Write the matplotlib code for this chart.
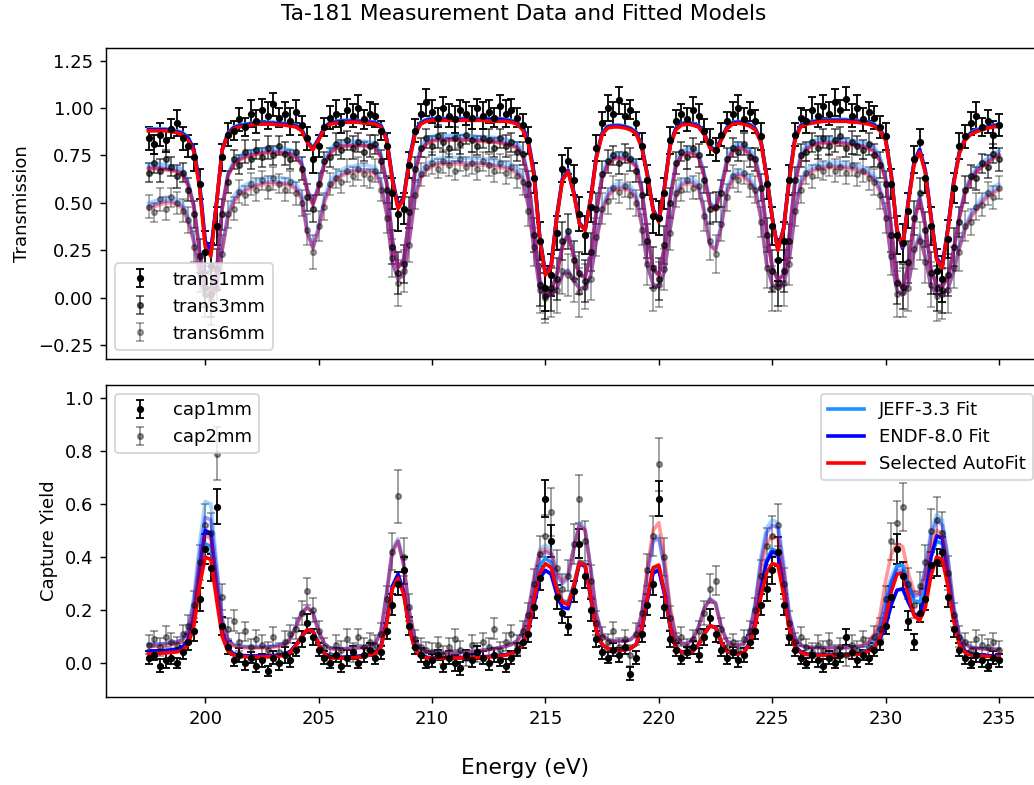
import numpy as np
import matplotlib.pyplot as plt

# energy grid of the measurement / fits (eV)
energy = np.linspace(197.5, 235.0, 151)

# ---- transmission data ----
t1_data = [
    0.84, 0.81, 0.86, 0.83, 0.89, 0.92, 0.84, 0.80, 0.74, 0.60,
    0.24, 0.17, 0.38, 0.74, 0.86, 0.88, 0.94, 0.90, 0.97, 0.93,
    0.99, 0.96, 1.02, 0.95, 0.97, 0.93, 0.98, 0.91, 0.84, 0.73,
    0.80, 0.90, 0.95, 0.97, 0.92, 0.99, 0.96, 1.00, 0.94, 0.97,
    0.96, 0.88, 0.80, 0.55, 0.44, 0.47, 0.70, 0.88, 0.97, 1.03,
    0.98, 0.95, 1.00, 0.96, 0.94, 0.99, 0.97, 0.95, 1.00, 0.96,
    0.98, 0.95, 1.01, 0.97, 0.99, 0.95, 0.91, 0.83, 0.63, 0.30,
    0.05, 0.12, 0.34, 0.68, 0.72, 0.62, 0.44, 0.33, 0.48, 0.79,
    0.92, 1.00, 0.97, 1.04, 0.96, 0.99, 0.92, 0.80, 0.62, 0.43,
    0.42, 0.55, 0.83, 0.93, 0.97, 0.94, 0.99, 0.96, 0.88, 0.82,
    0.78, 0.86, 0.93, 0.97, 1.00, 0.94, 0.98, 0.93, 0.85, 0.60,
    0.38, 0.20, 0.30, 0.62, 0.86, 0.95, 0.93, 0.99, 0.96, 1.01,
    0.97, 1.03, 0.99, 1.05, 0.96, 1.00, 0.94, 0.98, 0.95, 0.90,
    0.85, 0.60, 0.33, 0.29, 0.46, 0.73, 0.82, 0.63, 0.38, 0.14,
    0.10, 0.31, 0.58, 0.80, 0.85, 0.92, 0.96, 0.90, 0.93, 0.86, 0.91]
t1_err = [
    0.06, 0.05, 0.06, 0.06, 0.05, 0.07, 0.06, 0.06, 0.07, 0.08,
    0.11, 0.12, 0.10, 0.07, 0.06, 0.05, 0.06, 0.05, 0.07, 0.06,
    0.06, 0.07, 0.06, 0.05, 0.06, 0.07, 0.06, 0.05, 0.06, 0.07,
    0.06, 0.05, 0.06, 0.07, 0.05, 0.06, 0.06, 0.07, 0.05, 0.06,
    0.06, 0.05, 0.07, 0.08, 0.09, 0.08, 0.07, 0.06, 0.05, 0.07,
    0.06, 0.05, 0.06, 0.06, 0.07, 0.05, 0.06, 0.06, 0.05, 0.07,
    0.06, 0.05, 0.06, 0.07, 0.06, 0.05, 0.06, 0.07, 0.08, 0.10,
    0.12, 0.11, 0.09, 0.07, 0.07, 0.08, 0.09, 0.10, 0.08, 0.07,
    0.06, 0.07, 0.06, 0.07, 0.06, 0.05, 0.06, 0.07, 0.08, 0.09,
    0.09, 0.08, 0.07, 0.06, 0.05, 0.06, 0.07, 0.06, 0.06, 0.07,
    0.06, 0.06, 0.05, 0.06, 0.07, 0.06, 0.05, 0.06, 0.07, 0.08,
    0.10, 0.11, 0.10, 0.08, 0.06, 0.05, 0.06, 0.07, 0.06, 0.06,
    0.06, 0.07, 0.05, 0.06, 0.06, 0.07, 0.06, 0.05, 0.06, 0.06,
    0.07, 0.08, 0.10, 0.10, 0.09, 0.07, 0.07, 0.08, 0.10, 0.12,
    0.12, 0.10, 0.08, 0.07, 0.06, 0.06, 0.07, 0.05, 0.06, 0.07, 0.06]

t3_data = [
    0.66, 0.71, 0.67, 0.73, 0.69, 0.64, 0.66, 0.57, 0.44, 0.22,
    0.06, 0.02, 0.15, 0.44, 0.61, 0.73, 0.70, 0.77, 0.73, 0.78,
    0.74, 0.79, 0.75, 0.80, 0.76, 0.73, 0.77, 0.68, 0.53, 0.47,
    0.60, 0.72, 0.74, 0.81, 0.78, 0.83, 0.79, 0.82, 0.77, 0.80,
    0.81, 0.72, 0.57, 0.27, 0.13, 0.18, 0.45, 0.68, 0.79, 0.84,
    0.80, 0.85, 0.82, 0.79, 0.84, 0.81, 0.86, 0.83, 0.80, 0.84,
    0.83, 0.79, 0.84, 0.80, 0.82, 0.77, 0.76, 0.60, 0.33, 0.07,
    0.01, 0.05, 0.10, 0.30, 0.35, 0.20, 0.13, 0.09, 0.24, 0.47,
    0.65, 0.72, 0.75, 0.71, 0.76, 0.73, 0.67, 0.54, 0.30, 0.16,
    0.10, 0.28, 0.50, 0.71, 0.77, 0.74, 0.79, 0.75, 0.62, 0.47,
    0.48, 0.55, 0.73, 0.79, 0.77, 0.81, 0.74, 0.73, 0.58, 0.33,
    0.14, 0.08, 0.14, 0.30, 0.62, 0.75, 0.77, 0.82, 0.79, 0.84,
    0.80, 0.83, 0.85, 0.79, 0.82, 0.80, 0.78, 0.81, 0.75, 0.70,
    0.60, 0.33, 0.08, 0.06, 0.19, 0.42, 0.55, 0.36, 0.13, 0.05,
    0.04, 0.12, 0.27, 0.40, 0.57, 0.64, 0.63, 0.71, 0.69, 0.76, 0.73]
t3_err = [
    0.05, 0.05, 0.06, 0.05, 0.05, 0.06, 0.05, 0.06, 0.07, 0.09,
    0.11, 0.12, 0.11, 0.08, 0.06, 0.05, 0.05, 0.06, 0.05, 0.05,
    0.05, 0.06, 0.05, 0.05, 0.06, 0.05, 0.05, 0.06, 0.07, 0.07,
    0.06, 0.05, 0.05, 0.06, 0.05, 0.05, 0.06, 0.05, 0.05, 0.06,
    0.05, 0.06, 0.07, 0.09, 0.11, 0.10, 0.08, 0.06, 0.05, 0.05,
    0.05, 0.06, 0.05, 0.05, 0.06, 0.05, 0.05, 0.06, 0.05, 0.05,
    0.06, 0.05, 0.05, 0.06, 0.05, 0.05, 0.06, 0.07, 0.09, 0.11,
    0.12, 0.12, 0.11, 0.10, 0.09, 0.10, 0.11, 0.11, 0.10, 0.08,
    0.07, 0.06, 0.05, 0.06, 0.05, 0.06, 0.06, 0.07, 0.09, 0.11,
    0.11, 0.10, 0.08, 0.06, 0.05, 0.06, 0.05, 0.06, 0.07, 0.08,
    0.08, 0.07, 0.06, 0.05, 0.05, 0.06, 0.05, 0.06, 0.07, 0.09,
    0.11, 0.12, 0.11, 0.09, 0.07, 0.06, 0.05, 0.05, 0.06, 0.05,
    0.05, 0.06, 0.05, 0.05, 0.06, 0.05, 0.05, 0.06, 0.06, 0.07,
    0.07, 0.09, 0.11, 0.12, 0.11, 0.09, 0.08, 0.09, 0.11, 0.12,
    0.12, 0.11, 0.10, 0.08, 0.07, 0.06, 0.06, 0.05, 0.06, 0.05, 0.06]

t6_data = [
    0.48, 0.45, 0.52, 0.47, 0.53, 0.50, 0.46, 0.41, 0.27, 0.13,
    0.02, -0.01, 0.05, 0.23, 0.44, 0.47, 0.56, 0.54, 0.60, 0.57,
    0.62, 0.58, 0.63, 0.60, 0.57, 0.61, 0.55, 0.50, 0.36, 0.24,
    0.38, 0.48, 0.60, 0.63, 0.61, 0.67, 0.64, 0.68, 0.65, 0.63,
    0.67, 0.57, 0.42, 0.21, 0.08, 0.14, 0.28, 0.54, 0.65, 0.69,
    0.71, 0.68, 0.72, 0.70, 0.67, 0.73, 0.69, 0.71, 0.68, 0.72,
    0.70, 0.67, 0.71, 0.66, 0.69, 0.64, 0.61, 0.46, 0.27, 0.04,
    0.00, 0.03, 0.04, 0.14, 0.12, 0.10, 0.03, 0.06, 0.10, 0.32,
    0.47, 0.51, 0.58, 0.56, 0.59, 0.54, 0.50, 0.36, 0.18, 0.05,
    0.07, 0.15, 0.34, 0.55, 0.57, 0.62, 0.58, 0.59, 0.43, 0.30,
    0.23, 0.39, 0.53, 0.64, 0.62, 0.66, 0.59, 0.57, 0.40, 0.16,
    0.05, 0.06, 0.08, 0.18, 0.46, 0.57, 0.66, 0.64, 0.69, 0.67,
    0.70, 0.67, 0.69, 0.66, 0.70, 0.65, 0.67, 0.63, 0.61, 0.54,
    0.42, 0.22, 0.02, 0.03, 0.05, 0.26, 0.30, 0.19, 0.07, 0.01,
    0.02, 0.04, 0.16, 0.24, 0.38, 0.40, 0.48, 0.49, 0.55, 0.53, 0.58]
t6_err = [
    0.06, 0.05, 0.06, 0.06, 0.05, 0.06, 0.06, 0.07, 0.08, 0.10,
    0.12, 0.13, 0.12, 0.10, 0.07, 0.06, 0.06, 0.05, 0.06, 0.06,
    0.05, 0.06, 0.06, 0.05, 0.06, 0.06, 0.06, 0.07, 0.08, 0.09,
    0.08, 0.07, 0.06, 0.05, 0.06, 0.06, 0.05, 0.06, 0.06, 0.05,
    0.06, 0.06, 0.08, 0.10, 0.12, 0.11, 0.09, 0.07, 0.06, 0.05,
    0.06, 0.05, 0.06, 0.06, 0.05, 0.06, 0.05, 0.06, 0.06, 0.05,
    0.06, 0.06, 0.05, 0.06, 0.06, 0.06, 0.07, 0.08, 0.10, 0.12,
    0.13, 0.13, 0.12, 0.12, 0.11, 0.12, 0.13, 0.12, 0.11, 0.10,
    0.08, 0.07, 0.06, 0.06, 0.06, 0.07, 0.07, 0.08, 0.11, 0.12,
    0.12, 0.11, 0.09, 0.07, 0.06, 0.06, 0.06, 0.07, 0.08, 0.10,
    0.10, 0.09, 0.07, 0.06, 0.06, 0.06, 0.06, 0.07, 0.08, 0.11,
    0.12, 0.13, 0.12, 0.11, 0.08, 0.07, 0.06, 0.06, 0.06, 0.05,
    0.06, 0.06, 0.05, 0.06, 0.06, 0.06, 0.06, 0.06, 0.07, 0.07,
    0.08, 0.10, 0.12, 0.13, 0.12, 0.11, 0.10, 0.11, 0.12, 0.13,
    0.13, 0.12, 0.11, 0.10, 0.08, 0.07, 0.07, 0.06, 0.06, 0.06, 0.06]

# ---- transmission fits ----
t1_jeff = [
    0.89, 0.89, 0.89, 0.89, 0.885, 0.88, 0.87, 0.845, 0.785, 0.60,
    0.29, 0.24, 0.50, 0.785, 0.87, 0.90, 0.91, 0.915, 0.92, 0.925,
    0.925, 0.925, 0.925, 0.92, 0.92, 0.915, 0.91, 0.89, 0.83, 0.79,
    0.84, 0.90, 0.925, 0.93, 0.935, 0.935, 0.935, 0.935, 0.93, 0.93,
    0.925, 0.91, 0.84, 0.635, 0.48, 0.53, 0.73, 0.88, 0.925, 0.94,
    0.945, 0.945, 0.945, 0.945, 0.945, 0.945, 0.945, 0.945, 0.945, 0.945,
    0.945, 0.945, 0.945, 0.94, 0.935, 0.925, 0.90, 0.83, 0.66, 0.32,
    0.125, 0.165, 0.43, 0.63, 0.675, 0.56, 0.395, 0.36, 0.53, 0.75,
    0.87, 0.905, 0.91, 0.91, 0.905, 0.895, 0.875, 0.80, 0.65, 0.465,
    0.405, 0.585, 0.81, 0.895, 0.92, 0.925, 0.92, 0.91, 0.87, 0.80,
    0.78, 0.84, 0.90, 0.925, 0.93, 0.925, 0.915, 0.895, 0.83, 0.65,
    0.425, 0.255, 0.365, 0.63, 0.84, 0.91, 0.925, 0.93, 0.935, 0.94,
    0.94, 0.94, 0.94, 0.94, 0.935, 0.935, 0.93, 0.925, 0.915, 0.89,
    0.84, 0.65, 0.36, 0.275, 0.51, 0.715, 0.785, 0.67, 0.425, 0.205,
    0.165, 0.37, 0.61, 0.77, 0.84, 0.87, 0.885, 0.895, 0.905, 0.91, 0.915]
t1_endf = [
    0.885, 0.885, 0.885, 0.885, 0.88, 0.875, 0.865, 0.84, 0.78, 0.60,
    0.30, 0.25, 0.50, 0.78, 0.865, 0.895, 0.905, 0.91, 0.915, 0.92,
    0.92, 0.92, 0.92, 0.915, 0.915, 0.91, 0.905, 0.885, 0.825, 0.785,
    0.835, 0.895, 0.92, 0.925, 0.93, 0.93, 0.93, 0.93, 0.925, 0.925,
    0.92, 0.905, 0.835, 0.63, 0.48, 0.53, 0.725, 0.875, 0.92, 0.935,
    0.94, 0.94, 0.94, 0.94, 0.94, 0.94, 0.94, 0.94, 0.94, 0.94,
    0.94, 0.94, 0.94, 0.935, 0.93, 0.92, 0.895, 0.82, 0.65, 0.32,
    0.13, 0.17, 0.43, 0.625, 0.67, 0.555, 0.395, 0.36, 0.525, 0.745,
    0.865, 0.90, 0.905, 0.905, 0.90, 0.89, 0.87, 0.795, 0.645, 0.465,
    0.41, 0.585, 0.805, 0.89, 0.915, 0.92, 0.915, 0.905, 0.865, 0.795,
    0.775, 0.835, 0.895, 0.92, 0.925, 0.92, 0.91, 0.89, 0.825, 0.645,
    0.425, 0.255, 0.365, 0.625, 0.835, 0.905, 0.92, 0.925, 0.93, 0.935,
    0.935, 0.935, 0.935, 0.935, 0.93, 0.93, 0.925, 0.92, 0.91, 0.885,
    0.835, 0.645, 0.355, 0.26, 0.51, 0.71, 0.78, 0.67, 0.43, 0.21,
    0.17, 0.37, 0.61, 0.765, 0.835, 0.865, 0.88, 0.89, 0.90, 0.905, 0.91]
t1_auto = [
    0.88, 0.88, 0.88, 0.88, 0.875, 0.87, 0.86, 0.83, 0.77, 0.58,
    0.27, 0.22, 0.50, 0.78, 0.86, 0.89, 0.90, 0.905, 0.91, 0.915,
    0.915, 0.915, 0.915, 0.91, 0.91, 0.905, 0.90, 0.88, 0.82, 0.78,
    0.83, 0.89, 0.915, 0.92, 0.925, 0.925, 0.925, 0.925, 0.92, 0.92,
    0.915, 0.90, 0.83, 0.62, 0.47, 0.52, 0.72, 0.86, 0.915, 0.93,
    0.935, 0.935, 0.935, 0.935, 0.935, 0.935, 0.935, 0.935, 0.935, 0.935,
    0.93, 0.93, 0.93, 0.93, 0.925, 0.915, 0.885, 0.81, 0.64, 0.31,
    0.12, 0.16, 0.42, 0.62, 0.665, 0.55, 0.39, 0.355, 0.52, 0.74,
    0.86, 0.895, 0.90, 0.90, 0.895, 0.885, 0.865, 0.79, 0.64, 0.46,
    0.40, 0.58, 0.80, 0.885, 0.91, 0.915, 0.91, 0.90, 0.86, 0.79,
    0.77, 0.83, 0.89, 0.915, 0.92, 0.915, 0.905, 0.885, 0.82, 0.64,
    0.42, 0.25, 0.36, 0.62, 0.83, 0.90, 0.915, 0.92, 0.925, 0.93,
    0.93, 0.93, 0.93, 0.93, 0.925, 0.925, 0.92, 0.915, 0.905, 0.88,
    0.83, 0.64, 0.36, 0.27, 0.50, 0.70, 0.77, 0.66, 0.42, 0.20,
    0.16, 0.36, 0.60, 0.76, 0.83, 0.86, 0.875, 0.885, 0.895, 0.90, 0.905]

t3_jeff = [
    0.705, 0.705, 0.705, 0.70, 0.695, 0.69, 0.675, 0.61, 0.49, 0.25,
    0.055, 0.035, 0.135, 0.48, 0.655, 0.72, 0.745, 0.765, 0.775, 0.78,
    0.785, 0.79, 0.79, 0.79, 0.785, 0.78, 0.765, 0.72, 0.575, 0.50,
    0.595, 0.72, 0.785, 0.81, 0.82, 0.825, 0.825, 0.825, 0.825, 0.82,
    0.815, 0.76, 0.615, 0.31, 0.165, 0.205, 0.43, 0.68, 0.795, 0.835,
    0.85, 0.855, 0.855, 0.855, 0.855, 0.855, 0.855, 0.855, 0.85, 0.85,
    0.845, 0.845, 0.84, 0.835, 0.825, 0.815, 0.775, 0.64, 0.36, 0.095,
    0.03, 0.04, 0.125, 0.28, 0.345, 0.23, 0.125, 0.115, 0.23, 0.47,
    0.655, 0.725, 0.755, 0.76, 0.755, 0.745, 0.715, 0.58, 0.34, 0.155,
    0.125, 0.27, 0.54, 0.715, 0.775, 0.785, 0.785, 0.765, 0.66, 0.505,
    0.475, 0.59, 0.735, 0.795, 0.815, 0.805, 0.78, 0.745, 0.62, 0.36,
    0.165, 0.10, 0.125, 0.33, 0.62, 0.755, 0.805, 0.825, 0.835, 0.84,
    0.84, 0.84, 0.84, 0.835, 0.83, 0.825, 0.82, 0.81, 0.795, 0.745,
    0.64, 0.37, 0.105, 0.055, 0.175, 0.415, 0.54, 0.39, 0.155, 0.07,
    0.065, 0.115, 0.26, 0.435, 0.57, 0.64, 0.685, 0.715, 0.735, 0.76, 0.775]
t3_endf = [
    0.685, 0.685, 0.685, 0.68, 0.675, 0.67, 0.655, 0.595, 0.485, 0.245,
    0.055, 0.03, 0.13, 0.475, 0.645, 0.705, 0.73, 0.745, 0.755, 0.76,
    0.765, 0.77, 0.77, 0.77, 0.765, 0.76, 0.745, 0.705, 0.565, 0.495,
    0.585, 0.705, 0.765, 0.79, 0.80, 0.805, 0.805, 0.805, 0.805, 0.80,
    0.795, 0.745, 0.605, 0.305, 0.16, 0.20, 0.425, 0.665, 0.775, 0.815,
    0.83, 0.835, 0.835, 0.835, 0.835, 0.835, 0.835, 0.835, 0.83, 0.83,
    0.825, 0.825, 0.82, 0.815, 0.805, 0.795, 0.755, 0.625, 0.355, 0.09,
    0.025, 0.035, 0.12, 0.275, 0.335, 0.225, 0.12, 0.11, 0.225, 0.455,
    0.635, 0.705, 0.735, 0.74, 0.735, 0.725, 0.695, 0.565, 0.335, 0.15,
    0.12, 0.265, 0.525, 0.695, 0.755, 0.765, 0.765, 0.745, 0.645, 0.495,
    0.465, 0.575, 0.715, 0.775, 0.795, 0.785, 0.76, 0.725, 0.605, 0.355,
    0.16, 0.095, 0.12, 0.325, 0.605, 0.735, 0.785, 0.805, 0.815, 0.82,
    0.82, 0.82, 0.82, 0.815, 0.81, 0.805, 0.80, 0.79, 0.775, 0.725,
    0.625, 0.36, 0.10, 0.05, 0.17, 0.40, 0.525, 0.38, 0.15, 0.065,
    0.06, 0.11, 0.25, 0.425, 0.555, 0.625, 0.665, 0.695, 0.715, 0.74, 0.755]
t3_auto = [
    0.68, 0.68, 0.68, 0.675, 0.67, 0.665, 0.65, 0.59, 0.48, 0.24,
    0.05, 0.03, 0.13, 0.47, 0.64, 0.70, 0.725, 0.74, 0.75, 0.755,
    0.76, 0.765, 0.765, 0.765, 0.76, 0.755, 0.74, 0.70, 0.56, 0.49,
    0.58, 0.70, 0.76, 0.785, 0.795, 0.80, 0.80, 0.80, 0.80, 0.795,
    0.79, 0.74, 0.60, 0.30, 0.16, 0.20, 0.42, 0.66, 0.77, 0.81,
    0.825, 0.83, 0.83, 0.83, 0.83, 0.83, 0.83, 0.83, 0.825, 0.825,
    0.82, 0.82, 0.815, 0.81, 0.80, 0.79, 0.75, 0.62, 0.35, 0.09,
    0.025, 0.035, 0.12, 0.27, 0.33, 0.22, 0.12, 0.11, 0.22, 0.45,
    0.63, 0.70, 0.73, 0.735, 0.73, 0.72, 0.69, 0.56, 0.33, 0.15,
    0.12, 0.26, 0.52, 0.69, 0.75, 0.76, 0.76, 0.74, 0.64, 0.49,
    0.46, 0.57, 0.71, 0.77, 0.79, 0.78, 0.755, 0.72, 0.60, 0.35,
    0.16, 0.095, 0.12, 0.32, 0.60, 0.73, 0.78, 0.80, 0.81, 0.815,
    0.815, 0.815, 0.815, 0.81, 0.805, 0.80, 0.795, 0.785, 0.77, 0.72,
    0.62, 0.36, 0.10, 0.05, 0.17, 0.40, 0.52, 0.38, 0.15, 0.065,
    0.06, 0.11, 0.25, 0.42, 0.55, 0.62, 0.66, 0.69, 0.71, 0.735, 0.75]

t6_jeff = [
    0.50, 0.51, 0.52, 0.53, 0.53, 0.52, 0.50, 0.43, 0.31, 0.13,
    0.013, 0.007, 0.045, 0.265, 0.45, 0.535, 0.575, 0.595, 0.61, 0.62,
    0.63, 0.635, 0.635, 0.635, 0.63, 0.625, 0.605, 0.55, 0.355, 0.27,
    0.375, 0.53, 0.615, 0.655, 0.675, 0.69, 0.695, 0.70, 0.70, 0.695,
    0.69, 0.62, 0.46, 0.195, 0.10, 0.125, 0.315, 0.55, 0.665, 0.705,
    0.725, 0.735, 0.74, 0.74, 0.74, 0.74, 0.735, 0.735, 0.735, 0.735,
    0.73, 0.725, 0.72, 0.715, 0.705, 0.69, 0.65, 0.50, 0.26, 0.05,
    0.01, 0.015, 0.052, 0.125, 0.15, 0.095, 0.052, 0.052, 0.125, 0.315,
    0.475, 0.56, 0.595, 0.605, 0.60, 0.59, 0.55, 0.40, 0.175, 0.072,
    0.062, 0.145, 0.375, 0.56, 0.62, 0.63, 0.63, 0.605, 0.47, 0.29,
    0.26, 0.39, 0.58, 0.65, 0.675, 0.665, 0.635, 0.59, 0.44, 0.185,
    0.072, 0.052, 0.072, 0.205, 0.46, 0.62, 0.675, 0.695, 0.705, 0.71,
    0.715, 0.715, 0.715, 0.71, 0.705, 0.70, 0.69, 0.675, 0.65, 0.585,
    0.46, 0.205, 0.04, 0.015, 0.072, 0.25, 0.335, 0.215, 0.062, 0.02,
    0.015, 0.052, 0.145, 0.275, 0.38, 0.445, 0.49, 0.53, 0.56, 0.585, 0.60]
t6_endf = [
    0.48, 0.49, 0.50, 0.51, 0.51, 0.50, 0.48, 0.41, 0.30, 0.125,
    0.012, 0.006, 0.042, 0.255, 0.43, 0.51, 0.55, 0.57, 0.585, 0.595,
    0.605, 0.61, 0.61, 0.61, 0.605, 0.60, 0.58, 0.53, 0.345, 0.265,
    0.365, 0.51, 0.59, 0.63, 0.65, 0.665, 0.67, 0.675, 0.675, 0.67,
    0.665, 0.60, 0.445, 0.19, 0.10, 0.12, 0.305, 0.53, 0.64, 0.68,
    0.70, 0.71, 0.715, 0.715, 0.715, 0.715, 0.71, 0.71, 0.71, 0.71,
    0.705, 0.70, 0.695, 0.69, 0.68, 0.665, 0.63, 0.485, 0.255, 0.05,
    0.01, 0.015, 0.05, 0.12, 0.145, 0.09, 0.05, 0.05, 0.12, 0.305,
    0.46, 0.54, 0.575, 0.585, 0.58, 0.57, 0.53, 0.385, 0.17, 0.07,
    0.06, 0.14, 0.365, 0.54, 0.60, 0.61, 0.61, 0.585, 0.455, 0.28,
    0.25, 0.375, 0.56, 0.63, 0.655, 0.645, 0.615, 0.57, 0.425, 0.18,
    0.07, 0.05, 0.07, 0.20, 0.445, 0.60, 0.655, 0.675, 0.685, 0.69,
    0.695, 0.695, 0.695, 0.69, 0.685, 0.68, 0.67, 0.655, 0.63, 0.565,
    0.445, 0.20, 0.04, 0.015, 0.07, 0.245, 0.325, 0.21, 0.06, 0.02,
    0.015, 0.05, 0.14, 0.265, 0.365, 0.43, 0.47, 0.51, 0.54, 0.56, 0.58]
t6_auto = [
    0.47, 0.48, 0.49, 0.50, 0.50, 0.49, 0.47, 0.40, 0.29, 0.12,
    0.01, 0.005, 0.04, 0.25, 0.42, 0.50, 0.54, 0.56, 0.575, 0.585,
    0.595, 0.60, 0.60, 0.60, 0.595, 0.59, 0.57, 0.52, 0.34, 0.26,
    0.36, 0.50, 0.58, 0.62, 0.64, 0.655, 0.66, 0.665, 0.665, 0.66,
    0.655, 0.59, 0.44, 0.19, 0.10, 0.12, 0.30, 0.52, 0.63, 0.67,
    0.69, 0.70, 0.705, 0.705, 0.705, 0.705, 0.70, 0.70, 0.70, 0.70,
    0.695, 0.69, 0.685, 0.68, 0.67, 0.655, 0.62, 0.48, 0.25, 0.05,
    0.01, 0.015, 0.05, 0.12, 0.14, 0.09, 0.05, 0.05, 0.12, 0.30,
    0.45, 0.53, 0.565, 0.575, 0.57, 0.56, 0.52, 0.38, 0.17, 0.07,
    0.06, 0.14, 0.36, 0.53, 0.59, 0.60, 0.60, 0.575, 0.45, 0.28,
    0.25, 0.37, 0.55, 0.62, 0.645, 0.635, 0.605, 0.56, 0.42, 0.18,
    0.07, 0.05, 0.07, 0.20, 0.44, 0.59, 0.645, 0.665, 0.675, 0.68,
    0.685, 0.685, 0.685, 0.68, 0.675, 0.67, 0.66, 0.645, 0.62, 0.56,
    0.44, 0.20, 0.04, 0.015, 0.07, 0.24, 0.32, 0.21, 0.06, 0.02,
    0.015, 0.05, 0.14, 0.26, 0.36, 0.42, 0.46, 0.50, 0.53, 0.55, 0.57]

# ---- capture data ----
c1_data = [
    0.02, 0.03, -0.01, 0.01, 0.02, 0.00, 0.04, 0.08, 0.12, 0.24,
    0.43, 0.36, 0.59, 0.14, 0.06, 0.01, 0.03, 0.00, 0.02, -0.01,
    0.01, -0.03, 0.02, 0.00, 0.03, 0.01, 0.05, 0.09, 0.15, 0.10,
    0.05, 0.02, 0.00, 0.03, -0.01, 0.02, 0.04, 0.00, 0.03, 0.05,
    0.02, 0.04, 0.12, 0.22, 0.30, 0.35, 0.14, 0.06, 0.03, 0.00,
    0.01, 0.03, -0.01, 0.02, 0.00, -0.02, 0.03, 0.01, 0.04, 0.02,
    0.00, 0.03, 0.01, -0.01, 0.02, 0.05, 0.08, 0.11, 0.21, 0.32,
    0.62, 0.46, 0.25, 0.19, 0.14, 0.27, 0.45, 0.33, 0.20, 0.09,
    0.04, 0.02, 0.05, 0.03, 0.06, -0.04, 0.02, 0.11, 0.22, 0.30,
    0.62, 0.21, 0.09, 0.05, 0.02, 0.04, 0.06, 0.03, 0.10, 0.17,
    0.11, 0.05, 0.02, 0.04, 0.01, 0.03, 0.08, 0.12, 0.22, 0.28,
    0.35, 0.42, 0.22, 0.10, 0.05, 0.02, 0.00, 0.03, 0.01, -0.01,
    0.02, 0.00, 0.03, 0.10, 0.04, 0.01, 0.03, 0.02, 0.05, 0.08,
    0.14, 0.25, 0.43, 0.33, 0.16, 0.08, 0.19, 0.24, 0.37, 0.38,
    0.42, 0.25, 0.13, 0.05, 0.02, 0.00, 0.03, 0.01, -0.01, 0.02, 0.01]
c1_err = [
    0.025, 0.02, 0.025, 0.03, 0.025, 0.02, 0.025, 0.03, 0.035, 0.045,
    0.055, 0.05, 0.065, 0.035, 0.025, 0.02, 0.025, 0.025, 0.02, 0.025,
    0.025, 0.02, 0.025, 0.025, 0.03, 0.025, 0.025, 0.03, 0.035, 0.03,
    0.025, 0.025, 0.02, 0.025, 0.025, 0.03, 0.025, 0.02, 0.025, 0.025,
    0.025, 0.025, 0.03, 0.04, 0.045, 0.05, 0.035, 0.025, 0.025, 0.02,
    0.025, 0.02, 0.025, 0.025, 0.03, 0.025, 0.02, 0.025, 0.025, 0.025,
    0.025, 0.025, 0.02, 0.025, 0.025, 0.025, 0.025, 0.03, 0.04, 0.045,
    0.07, 0.06, 0.045, 0.04, 0.035, 0.04, 0.055, 0.045, 0.04, 0.03,
    0.025, 0.02, 0.025, 0.025, 0.025, 0.025, 0.025, 0.03, 0.04, 0.045,
    0.065, 0.04, 0.03, 0.025, 0.025, 0.02, 0.025, 0.025, 0.03, 0.035,
    0.03, 0.025, 0.025, 0.02, 0.025, 0.025, 0.025, 0.03, 0.04, 0.045,
    0.05, 0.055, 0.04, 0.03, 0.025, 0.025, 0.02, 0.025, 0.025, 0.025,
    0.025, 0.02, 0.025, 0.03, 0.025, 0.025, 0.02, 0.025, 0.025, 0.03,
    0.03, 0.04, 0.055, 0.05, 0.035, 0.03, 0.035, 0.04, 0.05, 0.05,
    0.055, 0.04, 0.03, 0.025, 0.025, 0.02, 0.025, 0.025, 0.02, 0.025, 0.025]

c2_data = [
    0.07, 0.09, 0.06, 0.10, 0.08, 0.07, 0.11, 0.14, 0.22, 0.38,
    0.52, 0.49, 0.79, 0.25, 0.13, 0.16, 0.08, 0.12, 0.06, 0.09,
    0.07, 0.05, 0.10, 0.04, 0.08, 0.11, 0.13, 0.19, 0.27, 0.20,
    0.12, 0.06, 0.03, 0.07, 0.05, 0.09, 0.04, 0.10, 0.06, 0.08,
    0.07, 0.11, 0.24, 0.42, 0.63, 0.40, 0.21, 0.09, 0.06, 0.05,
    0.04, 0.07, 0.03, 0.06, 0.09, 0.05, 0.02, 0.07, 0.04, 0.08,
    0.06, 0.13, 0.05, 0.08, 0.11, 0.07, 0.12, 0.18, 0.30, 0.41,
    0.48, 0.57, 0.36, 0.28, 0.33, 0.45, 0.62, 0.46, 0.31, 0.15,
    0.10, 0.08, 0.12, 0.06, 0.09, 0.03, 0.11, 0.19, 0.35, 0.48,
    0.75, 0.40, 0.17, 0.08, 0.10, 0.06, 0.09, 0.12, 0.19, 0.28,
    0.31, 0.13, 0.06, 0.08, 0.05, 0.09, 0.12, 0.20, 0.33, 0.44,
    0.48, 0.52, 0.30, 0.15, 0.08, 0.10, 0.06, 0.04, 0.07, 0.05,
    0.08, 0.04, 0.06, 0.03, 0.07, 0.05, 0.09, 0.06, 0.10, 0.13,
    0.24, 0.46, 0.53, 0.59, 0.30, 0.22, 0.29, 0.38, 0.50, 0.54,
    0.49, 0.34, 0.18, 0.10, 0.08, 0.05, 0.09, 0.07, 0.06, 0.08, 0.05]
c2_err = [
    0.035, 0.03, 0.035, 0.04, 0.035, 0.03, 0.035, 0.04, 0.05, 0.065,
    0.08, 0.075, 0.10, 0.05, 0.04, 0.04, 0.035, 0.035, 0.03, 0.035,
    0.035, 0.03, 0.035, 0.035, 0.04, 0.035, 0.04, 0.045, 0.05, 0.045,
    0.04, 0.035, 0.03, 0.035, 0.035, 0.04, 0.035, 0.03, 0.035, 0.035,
    0.035, 0.04, 0.05, 0.07, 0.10, 0.07, 0.05, 0.035, 0.035, 0.03,
    0.035, 0.03, 0.035, 0.035, 0.04, 0.035, 0.03, 0.035, 0.035, 0.035,
    0.035, 0.04, 0.03, 0.035, 0.035, 0.035, 0.04, 0.045, 0.055, 0.07,
    0.08, 0.09, 0.065, 0.055, 0.06, 0.075, 0.09, 0.075, 0.06, 0.045,
    0.035, 0.03, 0.035, 0.035, 0.035, 0.04, 0.04, 0.045, 0.06, 0.075,
    0.10, 0.07, 0.045, 0.035, 0.035, 0.03, 0.035, 0.04, 0.045, 0.055,
    0.055, 0.04, 0.035, 0.03, 0.035, 0.035, 0.04, 0.045, 0.06, 0.07,
    0.075, 0.08, 0.06, 0.045, 0.035, 0.035, 0.03, 0.035, 0.035, 0.035,
    0.035, 0.03, 0.035, 0.04, 0.035, 0.035, 0.03, 0.035, 0.04, 0.04,
    0.05, 0.07, 0.08, 0.09, 0.06, 0.05, 0.055, 0.065, 0.08, 0.085,
    0.08, 0.065, 0.045, 0.04, 0.035, 0.03, 0.035, 0.035, 0.03, 0.035, 0.035]

# ---- capture fits ----
c1_jeff = [
    0.04, 0.041, 0.042, 0.043, 0.045, 0.048, 0.055, 0.08, 0.16, 0.33,
    0.45, 0.44, 0.27, 0.11, 0.05, 0.033, 0.028, 0.026, 0.025, 0.025,
    0.025, 0.026, 0.027, 0.028, 0.032, 0.042, 0.066, 0.10, 0.125, 0.12,
    0.07, 0.036, 0.022, 0.02, 0.02, 0.021, 0.022, 0.024, 0.027, 0.032,
    0.037, 0.063, 0.155, 0.285, 0.33, 0.265, 0.13, 0.052, 0.026, 0.02,
    0.019, 0.019, 0.019, 0.019, 0.02, 0.02, 0.021, 0.021, 0.022, 0.023,
    0.024, 0.026, 0.028, 0.031, 0.036, 0.046, 0.072, 0.14, 0.26, 0.37,
    0.395, 0.38, 0.29, 0.235, 0.23, 0.295, 0.385, 0.375, 0.25, 0.12,
    0.07, 0.055, 0.05, 0.05, 0.05, 0.055, 0.07, 0.13, 0.245, 0.35,
    0.36, 0.265, 0.14, 0.06, 0.04, 0.038, 0.045, 0.07, 0.11, 0.14,
    0.135, 0.08, 0.045, 0.035, 0.035, 0.04, 0.075, 0.15, 0.29, 0.39,
    0.43, 0.42, 0.30, 0.145, 0.066, 0.043, 0.035, 0.033, 0.033, 0.033,
    0.033, 0.033, 0.033, 0.033, 0.034, 0.036, 0.04, 0.05, 0.07, 0.11,
    0.19, 0.30, 0.365, 0.37, 0.30, 0.235, 0.23, 0.28, 0.40, 0.46,
    0.45, 0.33, 0.18, 0.08, 0.045, 0.035, 0.032, 0.03, 0.028, 0.027, 0.027]
c1_endf = [
    0.045, 0.046, 0.047, 0.048, 0.05, 0.053, 0.06, 0.09, 0.18, 0.36,
    0.50, 0.49, 0.30, 0.12, 0.055, 0.035, 0.03, 0.028, 0.027, 0.027,
    0.027, 0.028, 0.029, 0.03, 0.034, 0.044, 0.068, 0.10, 0.125, 0.12,
    0.07, 0.037, 0.024, 0.022, 0.022, 0.023, 0.024, 0.026, 0.029, 0.033,
    0.038, 0.065, 0.16, 0.29, 0.335, 0.27, 0.135, 0.055, 0.028, 0.022,
    0.02, 0.02, 0.02, 0.02, 0.021, 0.021, 0.022, 0.022, 0.023, 0.024,
    0.025, 0.027, 0.029, 0.032, 0.037, 0.047, 0.07, 0.125, 0.22, 0.32,
    0.35, 0.335, 0.26, 0.21, 0.205, 0.28, 0.375, 0.365, 0.245, 0.12,
    0.07, 0.055, 0.05, 0.05, 0.05, 0.055, 0.07, 0.125, 0.24, 0.34,
    0.35, 0.26, 0.135, 0.06, 0.04, 0.038, 0.045, 0.07, 0.11, 0.14,
    0.135, 0.08, 0.045, 0.035, 0.035, 0.04, 0.075, 0.15, 0.28, 0.38,
    0.42, 0.41, 0.29, 0.14, 0.065, 0.042, 0.034, 0.032, 0.032, 0.032,
    0.032, 0.032, 0.032, 0.032, 0.033, 0.035, 0.038, 0.046, 0.06, 0.09,
    0.14, 0.22, 0.275, 0.28, 0.23, 0.185, 0.18, 0.25, 0.40, 0.48,
    0.47, 0.34, 0.18, 0.08, 0.045, 0.035, 0.032, 0.03, 0.028, 0.027, 0.027]
c1_auto = [
    0.035, 0.036, 0.037, 0.038, 0.04, 0.042, 0.048, 0.07, 0.14, 0.29,
    0.40, 0.39, 0.24, 0.10, 0.045, 0.03, 0.025, 0.024, 0.023, 0.023,
    0.023, 0.024, 0.025, 0.026, 0.03, 0.04, 0.065, 0.10, 0.125, 0.12,
    0.07, 0.035, 0.02, 0.018, 0.018, 0.019, 0.02, 0.022, 0.025, 0.03,
    0.035, 0.06, 0.15, 0.28, 0.32, 0.26, 0.13, 0.05, 0.025, 0.02,
    0.018, 0.018, 0.018, 0.018, 0.019, 0.019, 0.02, 0.02, 0.021, 0.022,
    0.023, 0.025, 0.027, 0.03, 0.035, 0.045, 0.07, 0.13, 0.24, 0.34,
    0.375, 0.36, 0.28, 0.23, 0.22, 0.29, 0.38, 0.37, 0.25, 0.12,
    0.07, 0.055, 0.05, 0.05, 0.05, 0.055, 0.07, 0.13, 0.25, 0.36,
    0.37, 0.27, 0.14, 0.06, 0.04, 0.038, 0.045, 0.07, 0.11, 0.14,
    0.135, 0.08, 0.045, 0.035, 0.035, 0.04, 0.07, 0.14, 0.25, 0.34,
    0.375, 0.37, 0.26, 0.13, 0.06, 0.04, 0.032, 0.03, 0.03, 0.03,
    0.03, 0.03, 0.03, 0.03, 0.031, 0.033, 0.036, 0.045, 0.06, 0.10,
    0.17, 0.27, 0.335, 0.34, 0.26, 0.18, 0.16, 0.21, 0.33, 0.40,
    0.39, 0.29, 0.16, 0.07, 0.04, 0.03, 0.028, 0.026, 0.025, 0.024, 0.024]

c2_jeff = [
    0.07, 0.071, 0.072, 0.074, 0.076, 0.08, 0.09, 0.13, 0.25, 0.45,
    0.61, 0.60, 0.38, 0.17, 0.09, 0.07, 0.065, 0.063, 0.062, 0.062,
    0.062, 0.063, 0.065, 0.068, 0.075, 0.095, 0.14, 0.19, 0.21, 0.19,
    0.12, 0.075, 0.058, 0.055, 0.055, 0.056, 0.057, 0.06, 0.063, 0.068,
    0.075, 0.12, 0.27, 0.43, 0.47, 0.38, 0.20, 0.09, 0.055, 0.045,
    0.042, 0.041, 0.04, 0.04, 0.041, 0.042, 0.043, 0.045, 0.047, 0.05,
    0.053, 0.056, 0.06, 0.065, 0.072, 0.085, 0.12, 0.20, 0.33, 0.43,
    0.445, 0.43, 0.35, 0.32, 0.34, 0.44, 0.53, 0.51, 0.36, 0.19,
    0.11, 0.09, 0.085, 0.085, 0.085, 0.09, 0.11, 0.19, 0.35, 0.47,
    0.48, 0.37, 0.20, 0.10, 0.075, 0.075, 0.09, 0.14, 0.21, 0.245,
    0.23, 0.14, 0.085, 0.07, 0.068, 0.075, 0.12, 0.23, 0.40, 0.51,
    0.54, 0.53, 0.38, 0.19, 0.10, 0.07, 0.062, 0.06, 0.06, 0.06,
    0.06, 0.06, 0.06, 0.06, 0.061, 0.063, 0.067, 0.078, 0.10, 0.15,
    0.25, 0.33, 0.37, 0.365, 0.30, 0.26, 0.27, 0.36, 0.50, 0.56,
    0.54, 0.40, 0.22, 0.11, 0.075, 0.062, 0.058, 0.056, 0.055, 0.054, 0.054]
c2_endf = [
    0.07, 0.071, 0.072, 0.074, 0.076, 0.08, 0.09, 0.125, 0.23, 0.41,
    0.55, 0.54, 0.35, 0.16, 0.088, 0.068, 0.063, 0.061, 0.06, 0.06,
    0.06, 0.061, 0.063, 0.066, 0.073, 0.093, 0.14, 0.19, 0.21, 0.19,
    0.12, 0.074, 0.056, 0.053, 0.053, 0.054, 0.055, 0.058, 0.061, 0.066,
    0.073, 0.12, 0.26, 0.42, 0.46, 0.37, 0.19, 0.088, 0.053, 0.043,
    0.04, 0.039, 0.038, 0.038, 0.039, 0.04, 0.041, 0.043, 0.045, 0.048,
    0.051, 0.054, 0.058, 0.063, 0.07, 0.083, 0.115, 0.19, 0.31, 0.41,
    0.42, 0.41, 0.33, 0.30, 0.32, 0.43, 0.52, 0.50, 0.35, 0.18,
    0.105, 0.088, 0.083, 0.083, 0.083, 0.088, 0.105, 0.18, 0.34, 0.46,
    0.47, 0.36, 0.19, 0.10, 0.073, 0.073, 0.088, 0.135, 0.205, 0.24,
    0.225, 0.135, 0.083, 0.068, 0.066, 0.073, 0.115, 0.22, 0.38, 0.49,
    0.52, 0.51, 0.36, 0.18, 0.098, 0.068, 0.06, 0.058, 0.058, 0.058,
    0.058, 0.058, 0.058, 0.058, 0.059, 0.061, 0.065, 0.075, 0.095, 0.14,
    0.23, 0.31, 0.35, 0.35, 0.29, 0.25, 0.26, 0.35, 0.48, 0.54,
    0.52, 0.39, 0.21, 0.105, 0.073, 0.06, 0.056, 0.054, 0.053, 0.052, 0.052]
c2_auto = [
    0.065, 0.066, 0.067, 0.069, 0.071, 0.075, 0.085, 0.115, 0.21, 0.37,
    0.48, 0.47, 0.31, 0.15, 0.085, 0.065, 0.06, 0.058, 0.057, 0.057,
    0.057, 0.058, 0.06, 0.063, 0.07, 0.09, 0.135, 0.185, 0.21, 0.19,
    0.12, 0.072, 0.055, 0.052, 0.052, 0.053, 0.054, 0.057, 0.06, 0.065,
    0.072, 0.12, 0.26, 0.42, 0.46, 0.37, 0.19, 0.087, 0.052, 0.042,
    0.04, 0.039, 0.038, 0.038, 0.039, 0.04, 0.041, 0.043, 0.045, 0.048,
    0.051, 0.054, 0.058, 0.063, 0.07, 0.083, 0.115, 0.195, 0.32, 0.42,
    0.43, 0.415, 0.34, 0.31, 0.33, 0.43, 0.52, 0.50, 0.35, 0.18,
    0.105, 0.088, 0.083, 0.083, 0.083, 0.088, 0.11, 0.19, 0.36, 0.50,
    0.53, 0.40, 0.21, 0.105, 0.075, 0.073, 0.088, 0.135, 0.205, 0.24,
    0.225, 0.135, 0.083, 0.068, 0.066, 0.073, 0.11, 0.21, 0.36, 0.45,
    0.48, 0.47, 0.34, 0.17, 0.095, 0.067, 0.06, 0.058, 0.058, 0.058,
    0.058, 0.058, 0.058, 0.058, 0.059, 0.062, 0.068, 0.08, 0.11, 0.18,
    0.31, 0.41, 0.45, 0.44, 0.34, 0.27, 0.26, 0.33, 0.45, 0.50,
    0.49, 0.36, 0.20, 0.10, 0.07, 0.058, 0.055, 0.053, 0.052, 0.051, 0.051]

fit_names = ["JEFF-3.3 Fit", "ENDF-8.0 Fit", "Selected AutoFit"]
fit_colors = ["dodgerblue", "blue", "red"]

dpi = 130
fig = plt.figure(figsize=(1034 / dpi, 785 / dpi), dpi=dpi)
ax1 = fig.add_axes([0.1025, 0.5427, 0.9048, 0.3962])
ax2 = fig.add_axes([0.1025, 0.1121, 0.9048, 0.3975], sharex=ax1)

# transmission panel
for name, y, err, a in [("trans1mm", t1_data, t1_err, 1.0),
                        ("trans3mm", t3_data, t3_err, 0.6),
                        ("trans6mm", t6_data, t6_err, 0.35)]:
    ax1.errorbar(energy, y, yerr=err, fmt='o', ms=3, color='k', alpha=a,
                 capsize=2, elinewidth=1, label=name)

for curves, a in [((t1_jeff, t1_endf, t1_auto), 1.0),
                  ((t3_jeff, t3_endf, t3_auto), 0.5),
                  ((t6_jeff, t6_endf, t6_auto), 0.35)]:
    for y, c in zip(curves, fit_colors):
        ax1.plot(energy, y, color=c, lw=2, alpha=a)

ax1.set_ylabel("Transmission")
ax1.set_ylim(-0.321, 1.316)
ax1.legend(loc='lower left')
ax1.tick_params(labelbottom=False)

# capture panel
data_handles = []
for name, y, err, a in [("cap1mm", c1_data, c1_err, 1.0),
                        ("cap2mm", c2_data, c2_err, 0.4)]:
    h = ax2.errorbar(energy, y, yerr=err, fmt='o', ms=3, color='k', alpha=a,
                     capsize=2, elinewidth=1, label=name)
    data_handles.append(h)

fit_handles = []
for curves, a in [((c1_jeff, c1_endf, c1_auto), 1.0),
                  ((c2_jeff, c2_endf, c2_auto), 0.4)]:
    for y, c, n in zip(curves, fit_colors, fit_names):
        line, = ax2.plot(energy, y, color=c, lw=2, alpha=a)
        if a == 1.0:
            line.set_label(n)
            fit_handles.append(line)

ax2.set_ylabel("Capture Yield")
ax2.set_ylim(-0.128, 1.049)
ax2.set_xlim(195.625, 236.875)
leg1 = ax2.legend(handles=data_handles, loc='upper left')
ax2.add_artist(leg1)
ax2.legend(handles=fit_handles, loc='upper right')

fig.text(0.5068, 1 - 14 / 785, "Ta-181 Measurement Data and Fitted Models",
         ha='center', va='center', fontsize=12)
fig.text(0.508, 1 - 768 / 785, "Energy (eV)", ha='center', va='center',
         fontsize=12)

fig.savefig("out.png", dpi=dpi)
